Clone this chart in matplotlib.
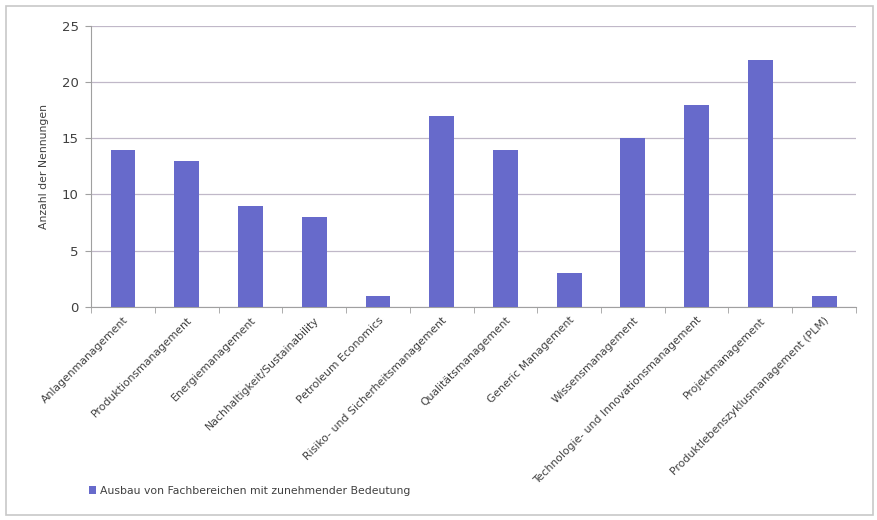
import matplotlib.pyplot as plt
import numpy as np
from matplotlib.patches import Rectangle

categories = ["Anlagenmanagement", "Produktionsmanagement", "Energiemanagement",
              "Nachhaltigkeit/Sustainability", "Petroleum Economics",
              "Risiko- und Sicherheitsmanagement", "Qualitätsmanagement",
              "Generic Management", "Wissensmanagement",
              "Technologie- und Innovationsmanagement", "Projektmanagement",
              "Produktlebenszyklusmanagement (PLM)"]
values = [14, 13, 9, 8, 1, 17, 14, 3, 15, 18, 22, 1]
series_name = "Ausbau von Fachbereichen mit zunehmender Bedeutung"

bar_color = "#676acb"
text_color = "#404040"

fig = plt.figure(figsize=(8.77, 5.2), dpi=100)
fig.patches.append(Rectangle((0.007, 0.01), 0.988, 0.978, transform=fig.transFigure,
                             fill=False, edgecolor="#c8c8c8", lw=1.2))
ax = fig.add_axes([0.104, 0.41, 0.872, 0.54])

x = np.arange(len(categories))
ax.bar(x, values, width=0.39, color=bar_color, label=series_name, zorder=3)

ax.set_xlim(-0.5, len(categories) - 0.5)
ax.set_ylim(0, 25)
ax.set_yticks([0, 5, 10, 15, 20, 25])
ax.yaxis.grid(True, color="#c0b8c8", lw=0.9, zorder=0)
ax.tick_params(axis="y", labelsize=9.5, colors=text_color, length=4, color="#a0a0a0", pad=5)

ax.set_xticks(x)
ax.set_xticklabels(categories, rotation=45, ha="right", rotation_mode="anchor",
                   fontsize=7.8, color=text_color)
ax.tick_params(axis="x", which="major", length=0, pad=6)
ax.set_xticks(np.arange(-0.5, len(categories)), minor=True)
ax.tick_params(axis="x", which="minor", length=4, color="#a0a0a0")

for s in ["top", "right"]:
    ax.spines[s].set_visible(False)
ax.spines["left"].set_color("#a0a0a0")
ax.spines["bottom"].set_color("#a0a0a0")

ax.set_ylabel("Anzahl der Nennungen", fontsize=7.8, color=text_color, labelpad=9)

fig.legend(loc="lower left", bbox_to_anchor=(0.09, 0.028), frameon=False,
           fontsize=7.8, handlelength=0.7, handleheight=0.7, handletextpad=0.3,
           labelcolor=text_color)

fig.savefig("out.png", dpi=100)
